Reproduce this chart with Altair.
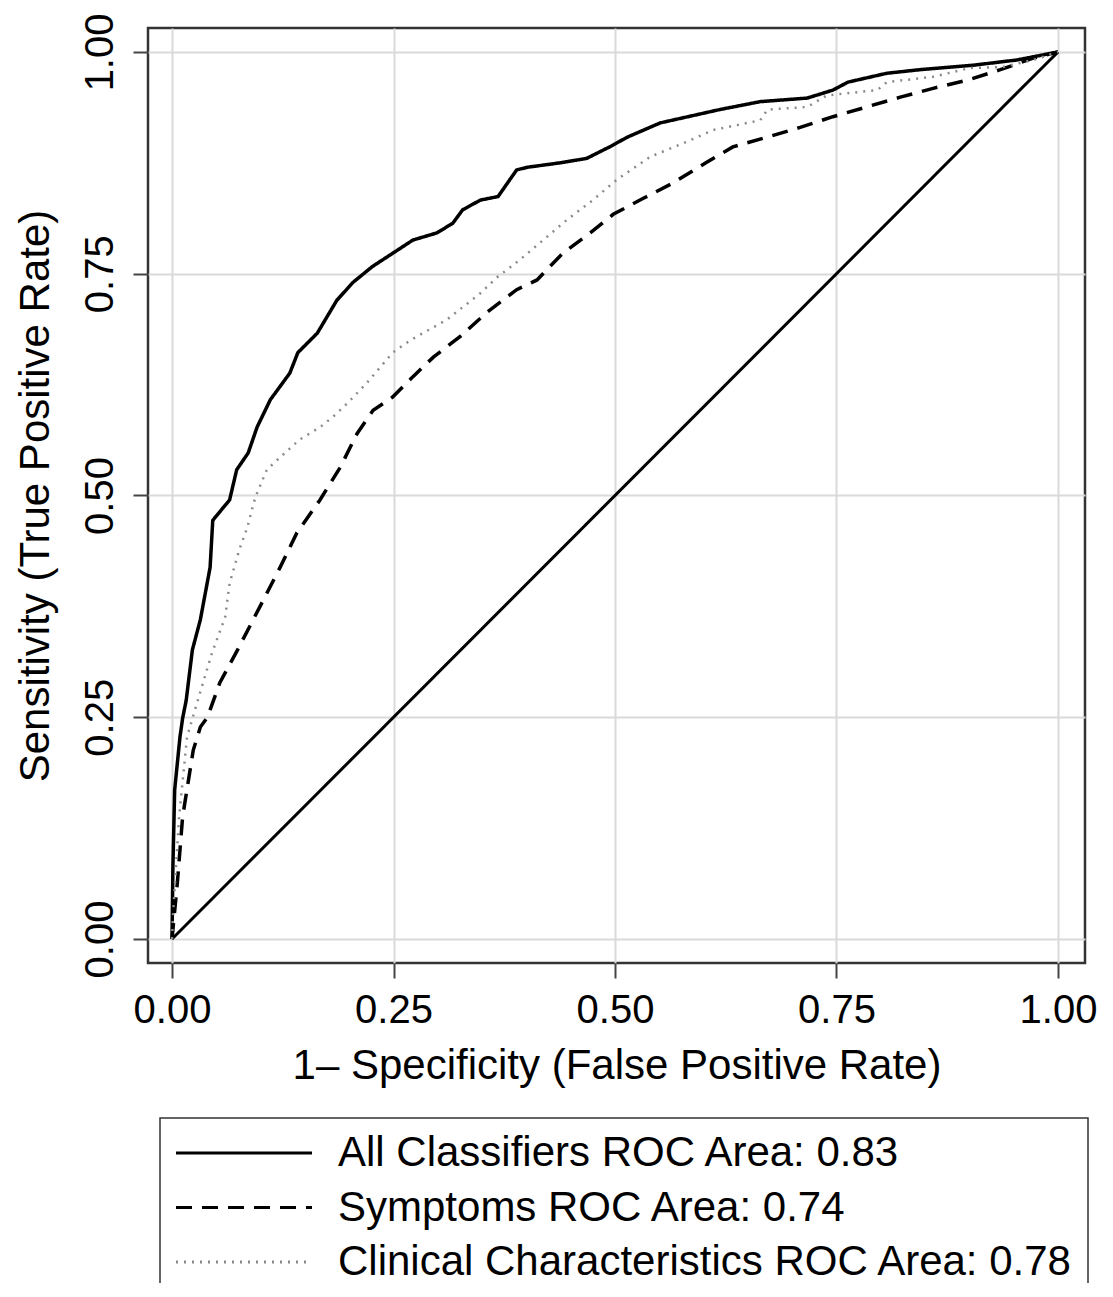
import altair as alt
import pandas as pd

series_names = [
    "All Classifiers ROC Area: 0.83",
    "Symptoms ROC Area: 0.74",
    "Clinical Characteristics ROC Area: 0.78",
]

all_fpr = [0, 0.001, 0.003, 0.009, 0.012, 0.016, 0.023, 0.032, 0.043, 0.046, 0.065, 0.073, 0.086, 0.096,
           0.111, 0.133, 0.142, 0.164, 0.186, 0.204, 0.226, 0.249, 0.272, 0.299, 0.317, 0.328, 0.348, 0.368,
           0.389, 0.401, 0.438, 0.468, 0.494, 0.514, 0.551, 0.618, 0.664, 0.717, 0.746, 0.763, 0.807, 0.844,
           0.904, 0.954, 1.0]
all_tpr = [0, 0.081, 0.168, 0.228, 0.249, 0.269, 0.326, 0.360, 0.419, 0.472, 0.495, 0.529, 0.548, 0.577,
           0.608, 0.638, 0.661, 0.683, 0.720, 0.740, 0.758, 0.773, 0.788, 0.796, 0.807, 0.822, 0.833, 0.837,
           0.867, 0.870, 0.875, 0.880, 0.893, 0.904, 0.920, 0.935, 0.944, 0.948, 0.957, 0.966, 0.976, 0.980,
           0.985, 0.991, 1.0]

sym_fpr = [0, 0.006, 0.012, 0.024, 0.032, 0.040, 0.054, 0.074, 0.103, 0.122, 0.141, 0.167, 0.190, 0.209,
           0.227, 0.249, 0.272, 0.295, 0.325, 0.356, 0.389, 0.412, 0.441, 0.472, 0.498, 0.532, 0.565, 0.604,
           0.633, 0.672, 0.709, 0.746, 0.784, 0.822, 0.859, 0.897, 0.935, 0.972, 1.0]
sym_tpr = [0, 0.063, 0.138, 0.213, 0.239, 0.250, 0.289, 0.326, 0.382, 0.419, 0.458, 0.495, 0.532, 0.570,
           0.596, 0.611, 0.634, 0.656, 0.679, 0.707, 0.732, 0.743, 0.773, 0.796, 0.817, 0.835, 0.852, 0.876,
           0.893, 0.904, 0.915, 0.927, 0.938, 0.949, 0.959, 0.968, 0.980, 0.993, 1.0]

cli_fpr = [0, 0.001, 0.008, 0.017, 0.035, 0.045, 0.060, 0.065, 0.076, 0.085, 0.094, 0.107, 0.122, 0.144,
           0.167, 0.182, 0.198, 0.220, 0.249, 0.269, 0.310, 0.348, 0.367, 0.393, 0.419, 0.446, 0.475, 0.502,
           0.540, 0.577, 0.611, 0.664, 0.672, 0.717, 0.739, 0.796, 0.807, 0.859, 0.901, 0.938, 0.972, 1.0]
cli_tpr = [0, 0.025, 0.138, 0.228, 0.289, 0.322, 0.363, 0.401, 0.439, 0.464, 0.498, 0.529, 0.543, 0.563,
           0.577, 0.589, 0.604, 0.627, 0.661, 0.675, 0.698, 0.728, 0.746, 0.766, 0.788, 0.811, 0.833, 0.856,
           0.882, 0.897, 0.912, 0.923, 0.935, 0.938, 0.951, 0.957, 0.966, 0.972, 0.982, 0.983, 0.991, 1.0]

diag_x = [0, 1]
diag_y = [0, 1]

tick_values = [0, 0.25, 0.5, 0.75, 1.0]
x_title = "1\u2013 Specificity (False Positive Rate)"
y_title = "Sensitivity (True Positive Rate)"

rows = []
for name, xs, ys in zip(series_names, [all_fpr, sym_fpr, cli_fpr], [all_tpr, sym_tpr, cli_tpr]):
    for i, (a, b) in enumerate(zip(xs, ys)):
        rows.append({"fpr": a, "tpr": b, "series": name, "idx": i})
df = pd.DataFrame(rows)
diag = pd.DataFrame({"fpr": diag_x, "tpr": diag_y})

FONT = "Liberation Sans"
xscale = alt.Scale(domain=[-0.0271, 1.0305], nice=False, zero=False)
yscale = alt.Scale(domain=[-0.027, 1.027], nice=False, zero=False)

common_axis = dict(
    values=tick_values, format=".2f", grid=True, domain=False,
    tickSize=15, tickWidth=2, tickColor="#444",
    labelFontSize=40, labelFont=FONT, labelColor="black",
    titleFontSize=42, titleFont=FONT, titleColor="black", titleFontWeight="normal",
    gridColor="#dadada", gridWidth=2, labelFlush=False, labelOverlap=False,
)
xaxis = alt.Axis(title=x_title, labelPadding=12, titleY=115, titleBaseline="alphabetic", **common_axis)
yaxis = alt.Axis(title=y_title, labelAngle=270, labelAlign="center", labelBaseline="alphabetic",
                 labelPadding=21, titleAngle=270, titleX=-100, titleBaseline="alphabetic", **common_axis)

legend = alt.Legend(
    title=None, orient="none", legendX=12, legendY=1090, direction="vertical",
    symbolType="M0,0H68", symbolSize=16, symbolStrokeWidth=3, symbolOffset=-19,
    labelFontSize=42, labelFont=FONT, labelColor="black", labelLimit=2000,
    labelOffset=141, padding=14, rowPadding=12.5,
    strokeColor="#333", fillColor="white",
)

lines = alt.Chart(df).mark_line(clip=True).encode(
    x=alt.X("fpr:Q", scale=xscale, axis=xaxis),
    y=alt.Y("tpr:Q", scale=yscale, axis=yaxis),
    color=alt.Color("series:N", scale=alt.Scale(domain=series_names, range=["black", "black", "#8a8a8a"]),
                    legend=legend),
    strokeDash=alt.StrokeDash("series:N", scale=alt.Scale(domain=series_names, range=[[1, 0], [16, 10], [2, 6]]),
                              legend=legend),
    strokeWidth=alt.condition(alt.datum.series == series_names[2], alt.value(2.5), alt.value(3.5)),
    order="idx:Q",
)

diag_line = alt.Chart(diag).mark_line(color="black", strokeWidth=3).encode(
    x=alt.X("fpr:Q", scale=xscale),
    y=alt.Y("tpr:Q", scale=yscale),
)

chart = alt.layer(diag_line, lines).properties(
    width=937, height=935,
    autosize=alt.AutoSizeParams(type="none"),
    padding={"left": 140, "top": 20, "right": 20, "bottom": 320},
    background="white",
).configure_view(stroke="#333", strokeWidth=2.5).configure_legend(strokeWidth=1.5)

chart.save("out.html", embed_options={"renderer": "svg", "actions": False})
